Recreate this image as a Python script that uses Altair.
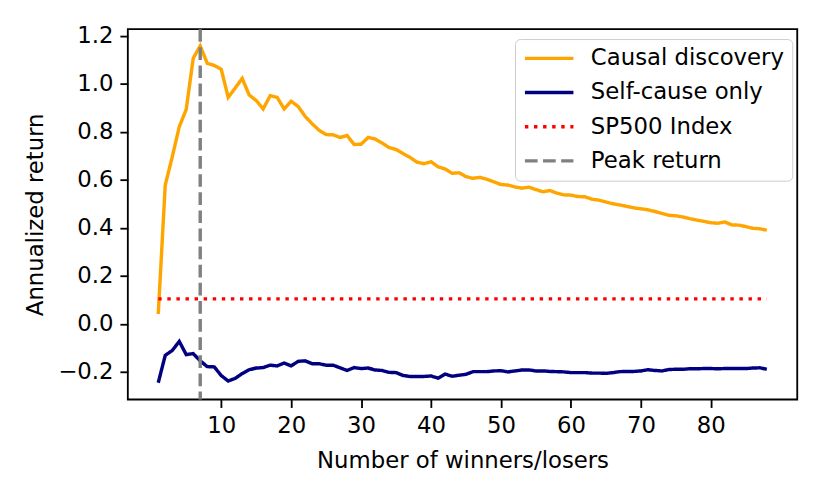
import altair as alt
import pandas as pd

# ---- data ----
n_values = list(range(1, 89))

causal_discovery = [
    0.041, 0.578, 0.695, 0.820, 0.893, 1.106, 1.157, 1.085, 1.076, 1.060,
    0.943, 0.982, 1.022, 0.953, 0.930, 0.895, 0.950, 0.943, 0.895, 0.927,
    0.905, 0.864, 0.833, 0.806, 0.788, 0.787, 0.776, 0.784, 0.747, 0.748,
    0.776, 0.770, 0.753, 0.734, 0.726, 0.709, 0.693, 0.673, 0.667, 0.675,
    0.654, 0.645, 0.627, 0.629, 0.613, 0.606, 0.610, 0.602, 0.591, 0.580,
    0.578, 0.570, 0.565, 0.569, 0.559, 0.550, 0.555, 0.544, 0.537, 0.536,
    0.530, 0.529, 0.519, 0.515, 0.507, 0.500, 0.495, 0.489, 0.483, 0.479,
    0.475, 0.468, 0.460, 0.452, 0.450, 0.445, 0.438, 0.432, 0.427, 0.421,
    0.419, 0.424, 0.412, 0.411, 0.405, 0.398, 0.396, 0.390,
]

self_cause_only = [
    -0.245, -0.131, -0.111, -0.073, -0.128, -0.124, -0.154, -0.178, -0.179, -0.215,
    -0.238, -0.227, -0.207, -0.191, -0.184, -0.182, -0.172, -0.175, -0.163, -0.175,
    -0.156, -0.154, -0.166, -0.166, -0.172, -0.172, -0.183, -0.194, -0.182, -0.186,
    -0.184, -0.192, -0.194, -0.202, -0.203, -0.215, -0.219, -0.219, -0.219, -0.217,
    -0.226, -0.209, -0.218, -0.214, -0.210, -0.199, -0.199, -0.199, -0.196, -0.195,
    -0.200, -0.196, -0.192, -0.192, -0.196, -0.196, -0.198, -0.199, -0.200, -0.203,
    -0.203, -0.203, -0.205, -0.205, -0.206, -0.203, -0.199, -0.198, -0.198, -0.196,
    -0.191, -0.194, -0.196, -0.190, -0.189, -0.189, -0.187, -0.187, -0.186, -0.186,
    -0.187, -0.186, -0.186, -0.186, -0.186, -0.184, -0.183, -0.189,
]

sp500_return = 0.104

series_names = ["Causal discovery", "Self-cause only", "SP500 Index", "Peak return"]
series_colors = ["orange", "navy", "red", "gray"]

x_ticks = [10, 20, 30, 40, 50, 60, 70, 80]
y_ticks = [-0.2, 0.0, 0.2, 0.4, 0.6, 0.8, 1.0, 1.2]

# ---- build tables ----
rows = []
for n, v in zip(n_values, causal_discovery):
    rows.append({"n": n, "value": v, "series": series_names[0]})
for n, v in zip(n_values, self_cause_only):
    rows.append({"n": n, "value": v, "series": series_names[1]})
for n in n_values:
    rows.append({"n": n, "value": sp500_return, "series": series_names[2]})
lines_df = pd.DataFrame(rows)

peak_n = n_values[causal_discovery.index(max(causal_discovery))]
peak_df = pd.DataFrame({"n": [peak_n], "series": [series_names[3]]})

LW = 3.46
FONT = "DejaVu Sans"
FS = 23

color_scale = alt.Scale(domain=series_names, range=series_colors)
dash_scale = alt.Scale(
    domain=series_names,
    range=[[1, 0], [1, 0], [3.46, 5.71], [12.8, 5.5]],
)

x_enc = alt.X(
    "n:Q",
    scale=alt.Scale(domain=[-3.35, 92.35], nice=False, zero=False),
    axis=alt.Axis(values=x_ticks, title="Number of winners/losers", format="d"),
)

legend = alt.Legend(
    title=None,
    orient="none",
    legendX=391,
    legendY=10,
    symbolType="stroke",
    symbolSize=2401,
    symbolStrokeWidth=LW,
    labelFont=FONT,
    labelFontSize=FS,
    labelColor="black",
    labelLimit=400,
    labelOffset=15.6,
    clipHeight=23,
    rowPadding=10.5,
    padding=8,
    strokeColor="#cccccc",
    fillColor="rgba(255,255,255,0.8)",
    cornerRadius=5,
)

lines = alt.Chart(lines_df).mark_line(strokeWidth=LW).encode(
    x=x_enc,
    y=alt.Y(
        "value:Q",
        scale=alt.Scale(domain=[-0.315, 1.227], nice=False, zero=False),
        axis=alt.Axis(values=y_ticks, format=".1f", title="Annualized return"),
    ),
    color=alt.Color("series:N", scale=color_scale, legend=legend, sort=series_names),
    strokeDash=alt.StrokeDash("series:N", scale=dash_scale, legend=legend, sort=series_names),
    detail="series:N",
)

peak = alt.Chart(peak_df).mark_rule(strokeWidth=LW).encode(
    x=alt.X("n:Q"),
    color=alt.Color("series:N", scale=color_scale, legend=legend, sort=series_names),
    strokeDash=alt.StrokeDash("series:N", scale=dash_scale, legend=legend, sort=series_names),
)

chart = (
    alt.layer(lines, peak)
    .properties(
        width=676,
        height=374,
        autosize=alt.AutoSizeParams(type="none"),
        padding={"left": 121, "top": 19, "right": 25, "bottom": 89},
        background="white",
    )
    .configure_view(stroke="black", strokeWidth=1.84)
    .configure_axis(
        grid=False,
        domain=False,
        ticks=True,
        tickColor="black",
        tickWidth=1.84,
        tickSize=8,
        labelFont=FONT,
        labelFontSize=FS,
        labelColor="black",
        labelPadding=7,
        titleFont=FONT,
        titleFontSize=FS,
        titleFontWeight="normal",
        titleColor="black",
    )
    .configure_axisX(titlePadding=13, labelFlush=False)
    .configure_axisY(titlePadding=10, labelFlush=False)
)

chart.save("out.html", embed_options={"renderer": "svg", "actions": False})
